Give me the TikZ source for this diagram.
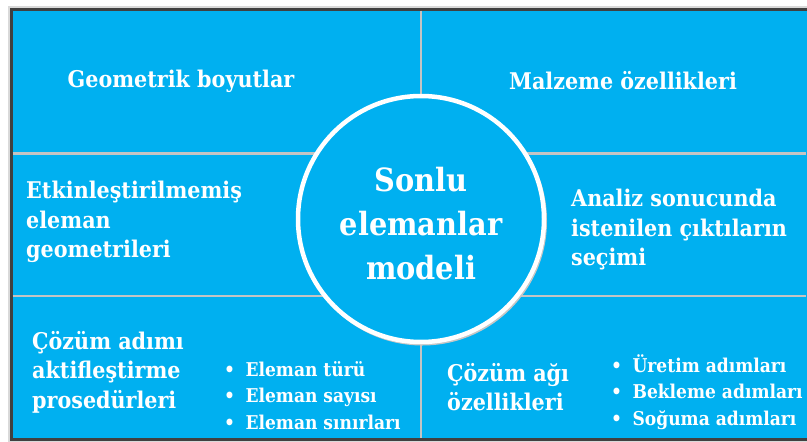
\documentclass[tikz,border=0pt]{standalone}
\usepackage{fontspec}
\setmainfont{DejaVu Serif Condensed}[BoldFont={* Bold}]
\definecolor{panelblue}{HTML}{00B0F0}
\definecolor{framegray}{HTML}{404040}
\definecolor{divgray}{HTML}{C4C4C4}
\tikzset{
  divider/.style={draw=divgray, line width=2.5pt},
  hdr/.style={text=white, font=\bfseries\fontsize{23}{30}\selectfont, inner sep=0pt},
  para/.style={text=white, font=\bfseries\fontsize{23}{29.5}\selectfont, align=left, anchor=north west, inner sep=0pt},
  bul/.style={text=white, font=\bfseries\fontsize{19}{26.5}\selectfont, align=left, anchor=north west, inner sep=0pt},
  ctr/.style={text=white, font=\bfseries\fontsize{32}{44}\selectfont, align=center, inner sep=0pt},
}
\begin{document}
\begin{tikzpicture}[x=1pt,y=-1pt]
\useasboundingbox (0,0) rectangle (807,442);
\clip (0,0) rectangle (807,442);
% frame shadow
\fill[black!15] (8,6) rectangle (830,442);
% panel
\fill[panelblue] (11,9) rectangle (830,439);
\draw[framegray, line width=3pt] (830,9) -- (11,9) -- (11,439) -- (830,439);
% dividers
\coordinate (lt) at (12.5,153.5);
\coordinate (rt) at (806,153.5);
\coordinate (lb) at (12.5,296);
\coordinate (rb) at (806,296);
\coordinate (vt) at (421,10.5);
\coordinate (vb) at (421,437.5);
\draw[divider] (lt) -- (rt);
\draw[divider] (lb) -- (rb);
\draw[divider] (vt) -- (vb);
% center circle
\fill[black!22] (422.5,221) circle (124.5);
\node[circle, draw=white, line width=4.5pt, fill=panelblue, minimum size=246pt, inner sep=0pt] (core) at (421,219) {};
\node[ctr] (title) at (421,224) {Sonlu\\elemanlar\\modeli};
% texts
\node[hdr] (geo) at (181,81) {Geometrik boyutlar};
\node[hdr] (mal) at (623,81) {Malzeme özellikleri};
\node[para] (etk) at (26,181) {Etkinleştirilmemiş\\eleman\\geometrileri};
\node[para] (ana) at (571,189) {Analiz sonucunda\\istenilen çıktıların\\seçimi};
\node[para] (coz) at (32,331) {Çözüm adımı\\aktifleştirme\\prosedürleri};
\node[bul] (bl) at (224,361) {•\hspace{0.55em}Eleman türü\\•\hspace{0.55em}Eleman sayısı\\•\hspace{0.55em}Eleman sınırları};
\node[para] (ag) at (447,363) {Çözüm ağı\\özellikleri};
\node[bul] (br) at (611,354) {•\hspace{0.55em}Üretim adımları\\•\hspace{0.55em}Bekleme adımları\\•\hspace{0.55em}Soğuma adımları};
\end{tikzpicture}
\end{document}
